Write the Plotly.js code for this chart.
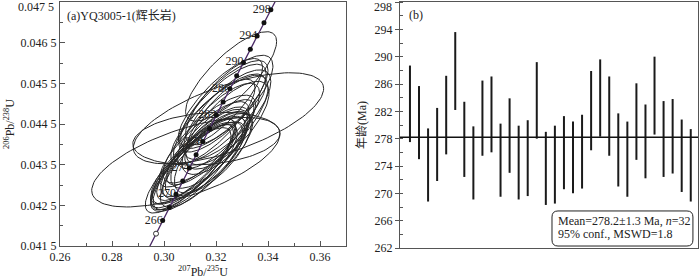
<!DOCTYPE html>
<html>
<head>
<meta charset="utf-8">
<script src="https://cdn.plot.ly/plotly-3.0.1.min.js"></script>
<style>html,body{margin:0;padding:0;background:#fff;}#chart{width:700px;height:279px;}</style>
</head>
<body>
<div id="chart"></div>
<script>
// ---------- Panel (a): concordia diagram ----------
// ellipse centres (207Pb/235U, 206Pb/238U), half extents and error correlation
const ellX   = [0.3225,0.3210,0.3120,0.3178,0.3214,0.3258,0.3178,0.3113,0.3188,0.3248,0.3084,0.3163,0.3144,0.3133,0.3232,0.3093,0.3130,0.3173,0.3124,0.3155,0.3243,0.3217,0.3242,0.3188,0.3111,0.3242,0.3154,0.3251,0.3199,0.3174,0.3157,0.3109];
const ellY   = [0.04489,0.04445,0.04344,0.04392,0.04463,0.04567,0.04405,0.04349,0.04455,0.04464,0.04356,0.04414,0.04350,0.04361,0.04498,0.04336,0.04345,0.04374,0.04362,0.04376,0.04473,0.04503,0.04460,0.04380,0.04358,0.04447,0.04400,0.04509,0.04406,0.04413,0.04366,0.04344];
const ellSX  = [0.0168,0.0158,0.0162,0.0152,0.0178,0.0175,0.0168,0.0165,0.0162,0.0366,0.0362,0.0283,0.0158,0.0178,0.0168,0.0165,0.0182,0.0168,0.0152,0.0168,0.0168,0.0162,0.0158,0.0148,0.0162,0.0162,0.0172,0.0168,0.0130,0.0178,0.0162,0.0158];
const ellSY  = [0.00108,0.00105,0.00105,0.00100,0.00110,0.00110,0.00105,0.00105,0.00105,0.00112,0.00110,0.00065,0.00105,0.00108,0.00108,0.00105,0.00110,0.00102,0.00100,0.00105,0.00110,0.00108,0.00110,0.00100,0.00105,0.00108,0.00105,0.00110,0.00080,0.00108,0.00100,0.00105];
const ellRho = [0.78,0.76,0.80,0.74,0.79,0.78,0.81,0.82,0.80,0.65,0.63,0.20,0.78,0.81,0.78,0.81,0.80,0.76,0.80,0.79,0.74,0.80,0.72,0.71,0.82,0.73,0.81,0.76,0.66,0.78,0.76,0.82];

// concordia ages (Ma)
const concDotAges   = [266,268,270,272,274,276,278,280,282,284,286,288,290,292,294,296,298];
const concOpenAges  = [264];
const concLabelAges = [266,270,274,278,282,286,290,294,298];
const LAMBDA238 = 1.55125e-4, LAMBDA235 = 9.8485e-4; // per Ma

// tick labels
const aYTickVals = [0.0415,0.0425,0.0435,0.0445,0.0455,0.0465,0.0475];
const aYTickText = ['0.041 5','0.042 5','0.043 5','0.044 5','0.045 5','0.046 5','0.047 5'];
const aXTickVals = [0.26,0.28,0.30,0.32,0.34,0.36];

// ---------- Panel (b): weighted mean ages ----------
const ageLow  = [277.5,275.0,268.8,271.8,275.7,282.2,272.4,269.1,275.5,276.0,269.5,273.0,269.1,269.6,278.0,268.3,268.5,270.6,270.0,270.7,276.3,278.3,275.5,271.0,269.5,274.9,272.2,278.6,272.4,272.9,270.2,268.8];
const ageHigh = [288.7,285.7,279.5,282.5,287.2,293.6,283.4,279.8,286.5,287.1,280.2,283.9,279.9,280.7,289.2,279.0,279.9,281.3,280.5,281.5,287.9,289.6,287.1,281.7,280.5,286.1,283.0,290.0,283.5,283.8,280.8,279.4];
const meanAge = 278.2;
const bYTickVals = [262,266,270,274,278,282,286,290,294,298];

const FONT = "Liberation Serif, Times New Roman, Noto Sans CJK SC, serif";
const AXC = '#555';
const TXT = '#222';

function c206(t){ return Math.exp(LAMBDA238*t)-1; }
function c207(t){ return Math.exp(LAMBDA235*t)-1; }

// ellipses
const ex=[], ey=[];
for(let i=0;i<ellX.length;i++){
  const s=Math.sqrt(1-ellRho[i]*ellRho[i]);
  for(let k=0;k<=120;k++){
    const t=2*Math.PI*k/120;
    ex.push(ellX[i]+ellSX[i]*Math.cos(t));
    ey.push(ellY[i]+ellSY[i]*(ellRho[i]*Math.cos(t)+s*Math.sin(t)));
  }
  ex.push(null); ey.push(null);
}
// concordia line
const lx=[], ly=[];
for(let t=258;t<=306;t+=1){ lx.push(c207(t)); ly.push(c206(t)); }

// bars
const bx=[], by=[];
for(let i=0;i<ageLow.length;i++){ bx.push(i+1,i+1,null); by.push(ageLow[i],ageHigh[i],null); }

const traces=[
  {type:'scatter',mode:'text',x:concLabelAges.map(c207),y:concLabelAges.map(c206),
   text:concLabelAges.map(String),textposition:'middle left',
   textfont:{family:FONT,size:12,color:TXT},xaxis:'x',yaxis:'y',hoverinfo:'skip',cliponaxis:false},
  {type:'scatter',mode:'lines',x:ex,y:ey,line:{color:'#262626',width:1},xaxis:'x',yaxis:'y',hoverinfo:'skip'},
  {type:'scatter',mode:'lines',x:lx,y:ly,line:{color:'#4a2a66',width:1.3},xaxis:'x',yaxis:'y',hoverinfo:'skip'},
  {type:'scatter',mode:'markers',x:concDotAges.map(c207),y:concDotAges.map(c206),
   marker:{size:5,color:'#111'},xaxis:'x',yaxis:'y',hoverinfo:'skip'},
  {type:'scatter',mode:'markers',x:concOpenAges.map(c207),y:concOpenAges.map(c206),
   marker:{size:5,color:'#fff',line:{color:'#333',width:1}},xaxis:'x',yaxis:'y',hoverinfo:'skip'},
  {type:'scatter',mode:'lines',x:bx,y:by,line:{color:'#1a1a1a',width:2},xaxis:'x2',yaxis:'y2',hoverinfo:'skip'},
  {type:'scatter',mode:'lines',x:[-0.1,32.8],y:[meanAge,meanAge],line:{color:'#111',width:1.5},xaxis:'x2',yaxis:'y2',hoverinfo:'skip'}
];

// rounded box (panel b)
const bx0=16.68,bx1=32.24,by0=262.29,by1=267.42,rx=0.66,ry=0.88;
const boxPath=`M ${bx0+rx},${by0} L ${bx1-rx},${by0} Q ${bx1},${by0} ${bx1},${by0+ry} L ${bx1},${by1-ry} Q ${bx1},${by1} ${bx1-rx},${by1} L ${bx0+rx},${by1} Q ${bx0},${by1} ${bx0},${by1-ry} L ${bx0},${by0+ry} Q ${bx0},${by0} ${bx0+rx},${by0} Z`;

const aYMinor=[]; for(let v=0.0415;v<=0.04751;v+=0.0005) aYMinor.push(+v.toFixed(5));
const aXMinor=[]; for(let v=0.26;v<=0.3701;v+=0.01) aXMinor.push(+v.toFixed(3));

// top tick labels sit at the very edge; they are placed as annotations nudged inside the image
const aYText = aYTickText.slice(0,-1).concat(['']);
const bYText = bYTickVals.slice(0,-1).map(String).concat(['']);

const tf={family:FONT,size:12,color:TXT};
const layout={
  width:700,height:279,margin:{l:0,r:0,t:2,b:31},
  paper_bgcolor:'#fff',plot_bgcolor:'#fff',showlegend:false,
  font:{family:FONT,size:12,color:TXT},
  xaxis:{domain:[60/700,346/700],range:[0.26,0.37],anchor:'y',
    tickmode:'array',tickvals:aXTickVals,ticktext:aXTickVals.map(v=>v.toFixed(2)),
    ticks:'inside',ticklen:5,tickcolor:AXC,tickfont:tf,
    minor:{tickmode:'array',tickvals:aXMinor,ticks:'inside',ticklen:3,tickcolor:AXC},
    showline:true,linecolor:AXC,linewidth:1,mirror:true,showgrid:false,zeroline:false,
    title:{text:'<sup>207</sup>Pb/<sup>235</sup>U',font:tf,standoff:2}},
  yaxis:{domain:[2/246,1],range:[0.0415,0.0475],anchor:'x',
    tickmode:'array',tickvals:aYTickVals,ticktext:aYText,
    ticks:'inside',ticklen:5,tickcolor:AXC,tickfont:tf,
    minor:{tickmode:'array',tickvals:aYMinor,ticks:'inside',ticklen:3,tickcolor:AXC},
    showline:true,linecolor:AXC,linewidth:1,mirror:true,showgrid:false,zeroline:false,
    title:{text:'<sup>206</sup>Pb/<sup>238</sup>U',font:tf,standoff:3}},
  xaxis2:{domain:[400/700,698/700],range:[-0.1,32.8],anchor:'y2',
    showticklabels:false,ticks:'',showline:true,linecolor:AXC,linewidth:1,mirror:true,showgrid:false,zeroline:false},
  yaxis2:{domain:[0,1],range:[262,298],anchor:'x2',
    tickmode:'array',tickvals:bYTickVals,ticktext:bYText,
    ticks:'outside',ticklen:4,tickcolor:AXC,tickfont:tf,
    minor:{dtick:2,tick0:262,ticks:'inside',ticklen:3,tickcolor:AXC},
    showline:true,linecolor:AXC,linewidth:1,mirror:true,showgrid:false,zeroline:false,
    title:{text:'年龄(Ma)',font:tf,standoff:5}},
  shapes:[{type:'path',path:boxPath,xref:'x2',yref:'y2',line:{color:TXT,width:1},fillcolor:'#fff',layer:'above'}],
  annotations:[
    {xref:'paper',yref:'paper',x:56/700,y:(248-7)/246,xanchor:'right',yanchor:'middle',showarrow:false,
     text:aYTickText[aYTickText.length-1],font:tf},
    {xref:'paper',yref:'paper',x:394/700,y:(248-7)/246,xanchor:'right',yanchor:'middle',showarrow:false,
     text:String(bYTickVals[bYTickVals.length-1]),font:tf},
    {xref:'paper',yref:'paper',x:65/700,y:(248-15)/246,xanchor:'left',yanchor:'middle',showarrow:false,
     text:'(a)YQ3005-1(辉长岩)',font:tf},
    {xref:'paper',yref:'paper',x:407/700,y:(248-15)/246,xanchor:'left',yanchor:'middle',showarrow:false,
     text:'(b)',font:tf},
    {xref:'x2',yref:'y2',x:17.1,y:262+(248-221)/6.83,xanchor:'left',yanchor:'middle',showarrow:false,
     text:'Mean=278.2±1.3 Ma, <i>n</i>=32',font:tf},
    {xref:'x2',yref:'y2',x:17.1,y:262+(248-234)/6.83,xanchor:'left',yanchor:'middle',showarrow:false,
     text:'95% conf., MSWD=1.8',font:tf}
  ]
};
Plotly.newPlot('chart',traces,layout,{staticPlot:true,displayModeBar:false});
</script>
</body>
</html>
